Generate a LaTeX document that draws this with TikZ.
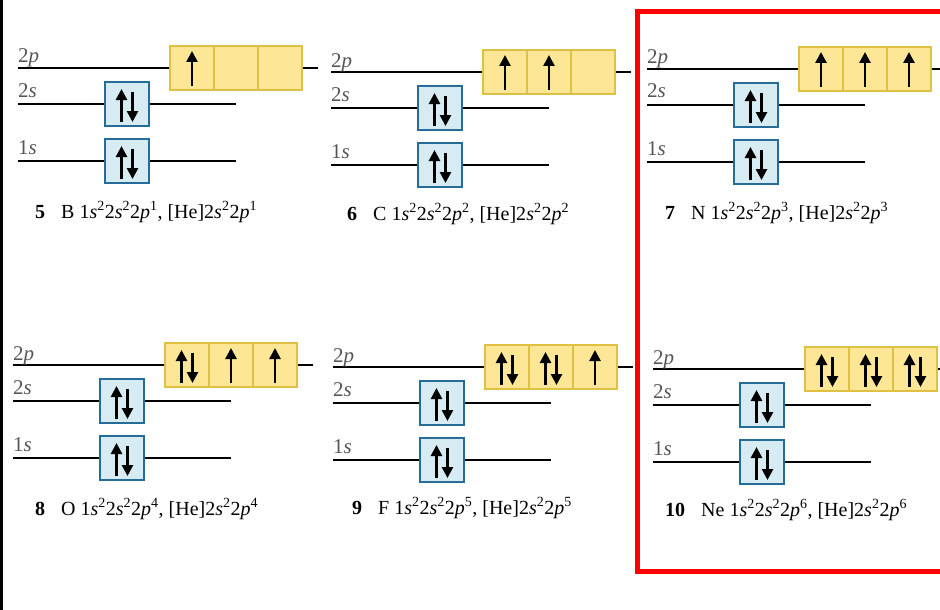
\documentclass[tikz,border=0pt]{standalone}
\usepackage{fontspec}
\setmainfont{Liberation Serif}
\newfontfamily\capfont{Liberation Serif}
\usetikzlibrary{arrows.meta}

\definecolor{pyellow}{RGB}{253,231,150}
\definecolor{pgold}{RGB}{222,193,66}
\definecolor{sblue}{RGB}{214,235,242}
\definecolor{sedge}{RGB}{38,108,152}
\definecolor{lblgray}{RGB}{85,85,85}

\tikzset{
	sbox/.style={draw=sedge, fill=sblue, line width=2pt, minimum size=44pt, inner sep=0pt},
	pbox/.style={draw=pgold, fill=pyellow, line width=2pt, minimum size=44pt, inner sep=0pt},
	orbline/.style={line width=2.5pt},
	spin/.style={line width=2.6pt, -{Triangle[length=11pt,width=11pt]}},
	orblabel/.style={text=lblgray, font=\capfont\fontsize{21}{24}\selectfont, anchor=base west, inner sep=0pt},
	config/.style={font=\capfont\fontsize{20}{24}\selectfont, anchor=base west, inner sep=0pt},
}

\begin{document}
\begin{tikzpicture}[x=1pt,y=-1pt]
	\useasboundingbox (0,0) rectangle (940,610);
	% frame
	\draw[line width=3pt] (1.5,0) -- (1.5,610);
	\draw[red, line width=5pt] (950,12) -- (637.5,12) -- (637.5,571) -- (950,571);
	% atoms
	\foreach \z/\sym/\sx/\py/\cx/\cy in {5/B/18/68/35/218, 6/C/331/72/347/220, 7/N/647/69/665/219,
			8/O/13/365/35/515, 9/F/333/367/352/514, 10/Ne/653/369/665/516} {
		\pgfmathtruncatemacro\np{\z-4}
		% boxes
		\node[sbox] (s2-\z) at (\sx+109,\py+36) {};
		\node[sbox] (s1-\z) at (\sx+109,\py+93) {};
		\foreach \i in {1,2,3}
			\node[pbox] (p\i-\z) at (\sx+130+44*\i,\py) {};
		% levels
		\draw[orbline] (\sx,\py) -- (p1-\z.west);
		\draw[orbline] (p3-\z.east) -- (\sx+300,\py);
		\foreach \b/\dy in {s2/36, s1/93} {
			\draw[orbline] (\sx,\py+\dy) -- (\b-\z.west);
			\draw[orbline] (\b-\z.east) -- (\sx+218,\py+\dy);
		}
		% labels
		\node[orblabel] (l2p-\z) at (\sx,\py-5) {2\textit{p}};
		\node[orblabel] (l2s-\z) at (\sx,\py+29) {2\textit{s}};
		\node[orblabel] (l1s-\z) at (\sx,\py+86) {1\textit{s}};
		% electrons
		\foreach \b in {s2-\z, s1-\z} {
			\draw[spin] ([shift={(-5.5,18)}]\b.center) -- ++(0,-33);
			\draw[spin] ([shift={(5.5,-12)}]\b.center) -- ++(0,30);
		}
		\foreach \i in {1,2,3} {
			\ifnum\np<\i\relax
			\else
				\ifnum\np<\numexpr\i+3\relax
					\draw[spin] ([shift={(0,18)}]p\i-\z.center) -- ++(0,-35);
				\else
					\draw[spin] ([shift={(-5.5,18)}]p\i-\z.center) -- ++(0,-33);
					\draw[spin] ([shift={(5.5,-12)}]p\i-\z.center) -- ++(0,30);
				\fi
			\fi
		}
		% text
		\node[config] (cfg-\z) at (\cx,\cy) {\textbf{\z}\hspace{0.8em}\sym\ 1\textit{s}\textsuperscript{2}2\textit{s}\textsuperscript{2}2\textit{p}\textsuperscript{\np}, [He]2\textit{s}\textsuperscript{2}2\textit{p}\textsuperscript{\np}};
	}
\end{tikzpicture}
\end{document}
